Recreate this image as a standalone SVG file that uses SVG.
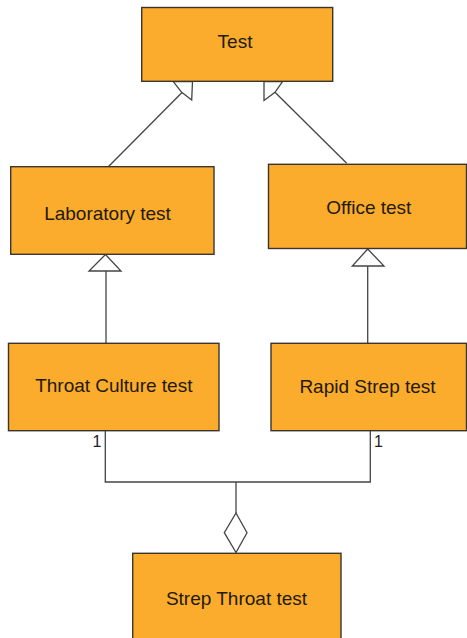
<svg xmlns="http://www.w3.org/2000/svg" width="467" height="638" viewBox="0 0 467 638">
<style>
.box{fill:#FCAC2C;stroke:#3a3530;stroke-width:1.4}
.lbl{font-family:"Liberation Sans",Arial,sans-serif;font-size:19px;fill:#221a0a;text-anchor:middle}
.mult{font-family:"Liberation Sans",Arial,sans-serif;font-size:16px;fill:#222}
.ln{fill:none;stroke:#444;stroke-width:1.3}
.head{fill:#fff;stroke:#444;stroke-width:1.3}
</style>
<rect width="467" height="638" fill="#fff"/>
<g id="connectors">
  <line class="ln" x1="108.3" y1="166.7" x2="182" y2="92.5"/>
  <polygon class="head" points="173.3,81.7 181.7,92.3 191.7,100 192.5,81.7"/>
  <line class="ln" x1="346.7" y1="163.3" x2="275" y2="92.3"/>
  <polygon class="head" points="282.5,81.7 275,92.3 264,100.5 264,81.7"/>
  <line class="ln" x1="106" y1="271" x2="106" y2="343"/>
  <polygon class="head" points="105.5,254.5 89,271 121,271"/>
  <line class="ln" x1="367.7" y1="266" x2="367.7" y2="343"/>
  <polygon class="head" points="367.7,249 352.3,266 384,266"/>
  <polyline class="ln" points="105.3,431 105.3,482 370.3,482 370.3,431"/>
  <line class="ln" x1="236" y1="482" x2="236" y2="513"/>
  <polygon class="head" points="236,513 247,532.7 236,552.5 224.3,532.7"/>
  <text class="mult" x="92.5" y="447">1</text>
  <text class="mult" x="374" y="447">1</text>
</g>
<g id="test">
  <rect class="box" x="141.7" y="7.5" width="191" height="73.8"/>
  <text class="lbl" x="235" y="48.3">Test</text>
</g>
<g id="laboratory-test">
  <rect class="box" x="10.7" y="166.7" width="203.3" height="87.6"/>
  <text class="lbl" x="107.5" y="219.5">Laboratory test</text>
</g>
<g id="office-test">
  <rect class="box" x="268.5" y="164.3" width="198" height="84.2"/>
  <text class="lbl" x="368.8" y="214">Office test</text>
</g>
<g id="throat-culture-test">
  <rect class="box" x="8.5" y="343.3" width="210.5" height="87.4"/>
  <text class="lbl" x="113.8" y="391.7">Throat Culture test</text>
</g>
<g id="rapid-strep-test">
  <rect class="box" x="271" y="343.3" width="195.5" height="87.4"/>
  <text class="lbl" x="367.5" y="392.7">Rapid Strep test</text>
</g>
<g id="strep-throat-test">
  <rect class="box" x="132.7" y="553.3" width="208.3" height="90"/>
  <text class="lbl" x="236.5" y="604.5">Strep Throat test</text>
</g>
</svg>
